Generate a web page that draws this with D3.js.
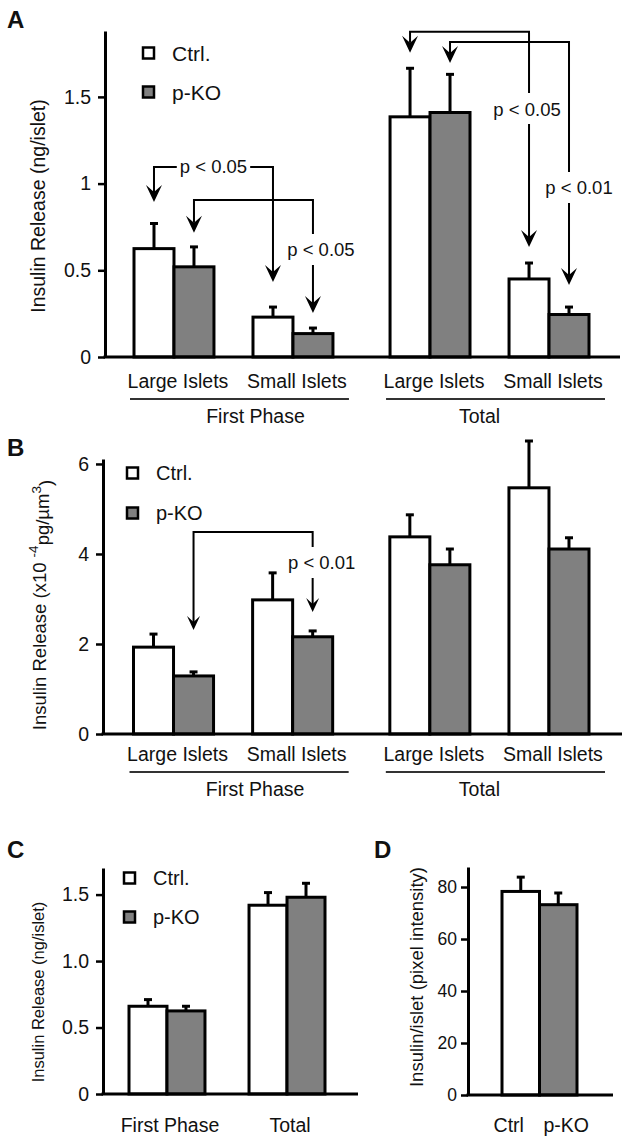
<!DOCTYPE html>
<html>
<head>
<meta charset="utf-8">
<script src="https://cdn.jsdelivr.net/npm/d3@7"></script>
<style>
  body { margin: 0; background: #fff; }
  text { font-family: "Liberation Sans", Arial, sans-serif; fill: #111; }
</style>
</head>
<body>
<script>
// categories shared by the panels
var series = ["Ctrl.", "p-KO"];
var phases = ["First Phase", "Total"];
var islets = ["Large Islets", "Small Islets"];

// panel A: insulin release (ng/islet); order = FP large, FP small, Total large, Total small
var aCtrl = [0.625, 0.23, 1.385, 0.45];
var aCtrlErr = [0.145, 0.058, 0.28, 0.092];
var aKO = [0.52, 0.135, 1.41, 0.245];
var aKOErr = [0.115, 0.032, 0.22, 0.043];
var aTicks = [0, 0.5, 1, 1.5];
var aTickLabels = ["0", "0.5", "1", "1.5"];

// panel B: insulin release (x10^-4 pg/um^3)
var bCtrl = [1.93, 2.98, 4.38, 5.47];
var bCtrlErr = [0.29, 0.6, 0.49, 1.04];
var bKO = [1.29, 2.16, 3.76, 4.11];
var bKOErr = [0.09, 0.13, 0.35, 0.25];
var bTicks = [0, 2, 4, 6];
var bTickLabels = ["0", "2", "4", "6"];

// panel C: insulin release (ng/islet)
var cCats = ["First Phase", "Total"];
var cCtrl = [0.66, 1.42];
var cCtrlErr = [0.05, 0.095];
var cKO = [0.625, 1.48];
var cKOErr = [0.035, 0.105];
var cTicks = [0, 0.5, 1, 1.5];
var cTickLabels = ["0", "0.5", "1.0", "1.5"];

// panel D: insulin/islet (pixel intensity)
var dCats = ["Ctrl", "p-KO"];
var dValues = [78.3, 73.2];
var dErr = [5.5, 4.5];
var dTicks = [0, 20, 40, 60, 80];

// significance brackets, from/to = [bar index, series index], heights in data units
var aBrackets = [
  { from: [0, 0], to: [1, 0], top: 1.096, tipFrom: 0.894, tipTo: 0.433, label: "p < 0.05" },
  { from: [0, 1], to: [1, 1], top: 0.906, tipFrom: 0.716, tipTo: 0.254, label: "p < 0.05", labelY: 0.617, dx: 8 },
  { from: [2, 0], to: [3, 0], top: 1.875, tipFrom: 1.754, tipTo: 0.635, label: "p < 0.05", labelY: 1.43, dx: -2 },
  { from: [2, 1], to: [3, 1], top: 1.817, tipFrom: 1.696, tipTo: 0.415, label: "p < 0.01", labelY: 0.975, dx: 10 }
];
var bBrackets = [
  { from: [0, 1], to: [1, 1], top: 4.49, tipFrom: 2.31, tipTo: 2.71, label: "p < 0.01", labelY: 3.8, dx: 9 }
];

var fills = ["#ffffff", "#808080"];

var svg = d3.select("body").append("svg")
  .attr("width", 622)
  .attr("height", 1137);

// y axis with ticks on the left, domain line thick
function yAxis(x, y, ticks, labels, size, pad) {
  var ax = svg.append("g")
    .attr("transform", `translate(${x},0)`)
    .call(d3.axisLeft(y).tickValues(ticks)
      .tickFormat(function(d, i) { return labels[i]; })
      .tickSize(7).tickSizeOuter(0).tickPadding(pad));
  ax.select(".domain").attr("stroke", "#000").attr("stroke-width", 3);
  ax.selectAll(".tick line").attr("stroke", "#000").attr("stroke-width", 2.5);
  ax.selectAll(".tick text")
    .attr("font-size", size)
    .attr("font-family", "Liberation Sans, Arial, sans-serif")
    .attr("fill", "#111");
}

function xLine(x1, x2, yPos) {
  svg.append("line")
    .attr("x1", x1).attr("x2", x2)
    .attr("y1", yPos).attr("y2", yPos)
    .attr("stroke", "#000").attr("stroke-width", 3);
}

// bars plus upper error bars
function bars(rows, xOf, w, y) {
  var g = svg.append("g");
  g.selectAll("rect").data(rows).enter().append("rect")
    .attr("x", d => xOf(d))
    .attr("y", d => y(d.value))
    .attr("width", w)
    .attr("height", d => y(0) - y(d.value))
    .attr("fill", d => fills[d.s])
    .attr("stroke", "#000")
    .attr("stroke-width", 3);
  g.selectAll("line.err").data(rows).enter().append("line")
    .attr("class", "err")
    .attr("x1", d => xOf(d) + w / 2).attr("x2", d => xOf(d) + w / 2)
    .attr("y1", d => y(d.value)).attr("y2", d => y(d.value + d.err))
    .attr("stroke", "#000").attr("stroke-width", 3);
  g.selectAll("line.cap").data(rows).enter().append("line")
    .attr("class", "cap")
    .attr("x1", d => xOf(d) + w / 2 - 4).attr("x2", d => xOf(d) + w / 2 + 4)
    .attr("y1", d => y(d.value + d.err)).attr("y2", d => y(d.value + d.err))
    .attr("stroke", "#000").attr("stroke-width", 3);
}

function legend(x, y0, step, size) {
  series.forEach(function(s, i) {
    svg.append("rect")
      .attr("x", x).attr("y", y0 + i * step - 5.5)
      .attr("width", 11).attr("height", 11)
      .attr("fill", fills[i]).attr("stroke", "#000").attr("stroke-width", 2.5);
    svg.append("text")
      .attr("x", x + 29).attr("y", y0 + i * step)
      .attr("dy", "0.36em")
      .attr("font-size", size)
      .text(s);
  });
}

function yTitle(x, yc, size) {
  return svg.append("text")
    .attr("transform", `translate(${x},${yc}) rotate(-90)`)
    .attr("text-anchor", "middle")
    .attr("dy", "0.35em")
    .attr("font-size", size);
}

function panelLetter(t, x, yPos) {
  svg.append("text").attr("x", x).attr("y", yPos)
    .attr("font-size", 24).attr("font-weight", "bold").text(t);
}

function arrowHead(g, x, tipY, s) {
  g.append("path")
    .attr("d", `M${x},${tipY} L${x - s.w / 2},${tipY - s.len} L${x},${tipY - s.notch} L${x + s.w / 2},${tipY - s.len} Z`)
    .attr("fill", "#000").attr("stroke", "none");
}

function bracket(b, xOf, y, head) {
  var g = svg.append("g");
  var xa = xOf(b.from), xb = xOf(b.to);
  var yt = y(b.top), ya = y(b.tipFrom), yb = y(b.tipTo);
  var d = `M${xa},${ya - head.notch} V${yt}`;
  if (b.labelY === undefined) {
    var t = g.append("text")
      .attr("x", (xa + xb) / 2).attr("y", yt).attr("dy", "0.35em")
      .attr("text-anchor", "middle").attr("font-size", 18.5).text(b.label);
    var w = t.node().getComputedTextLength();
    d += ` H${(xa + xb) / 2 - w / 2 - 3} M${(xa + xb) / 2 + w / 2 + 3},${yt} H${xb} V${yb - head.notch}`;
  } else {
    var ly = y(b.labelY);
    g.append("text")
      .attr("x", xb + b.dx).attr("y", ly).attr("dy", "0.35em")
      .attr("text-anchor", "middle").attr("font-size", 18.5).text(b.label);
    d += ` H${xb} V${ly - 16} M${xb},${ly + 15} V${yb - head.notch}`;
  }
  g.append("path").attr("d", d)
    .attr("fill", "none").attr("stroke", "#000").attr("stroke-width", 2);
  arrowHead(g, xa, ya, head);
  arrowHead(g, xb, yb, head);
}

// panels A and B share the grouped layout
function groupedPanel(o) {
  var y = d3.scaleLinear().domain([0, o.yMax]).range([o.bottom, o.top]);
  var x0 = d3.scaleBand().domain(phases).range(o.xRange).paddingInner(0.223);
  var x1 = d3.scaleBand().domain(islets).range([0, x0.bandwidth()]).paddingInner(0.328);
  var x2 = d3.scaleBand().domain(series).range([0, x1.bandwidth()]);

  var rows = [];
  o.ctrl.forEach(function(v, i) {
    var p = phases[Math.floor(i / 2)], c = islets[i % 2];
    rows.push({ i: i, s: 0, p: p, c: c, value: v, err: o.ctrlErr[i] });
    rows.push({ i: i, s: 1, p: p, c: c, value: o.ko[i], err: o.koErr[i] });
  });
  var barX = d => x0(d.p) + x1(d.c) + x2(series[d.s]);
  var bw = x2.bandwidth();

  bars(rows, barX, bw, y);
  yAxis(o.axisX, y, o.ticks, o.tickLabels, 19.5, 7);
  xLine(o.axisX - 1.5, o.xEnd, o.bottom);

  // category labels, underline and phase label
  phases.forEach(function(p, pi) {
    islets.forEach(function(c) {
      svg.append("text")
        .attr("x", x0(p) + x1(c) + x1.bandwidth() / 2 + 4)
        .attr("y", o.catY)
        .attr("text-anchor", "middle")
        .attr("font-size", 19.5)
        .text(c);
    });
    svg.append("line")
      .attr("x1", x0(p) - 4).attr("x2", x0(p) + x0.bandwidth() + 16)
      .attr("y1", o.catY + 11).attr("y2", o.catY + 11)
      .attr("stroke", "#333").attr("stroke-width", 1.8);
    svg.append("text")
      .attr("x", x0(p) + x0.bandwidth() / 2 + (pi === 0 ? 22 : -10))
      .attr("y", o.catY + 35)
      .attr("text-anchor", "middle")
      .attr("font-size", 19.5)
      .text(p);
  });

  var centerOf = function(ref) {
    var i = ref[0];
    return x0(phases[Math.floor(i / 2)]) + x1(islets[i % 2]) + x2(series[ref[1]]) + bw / 2;
  };
  o.brackets.forEach(function(b) { bracket(b, centerOf, y, o.head); });
  return y;
}

// ---- Panel A ----
panelLetter("A", 7, 28);
groupedPanel({
  yMax: 1.88, top: 31, bottom: 357, axisX: 105, xEnd: 620,
  xRange: [134, 589], ctrl: aCtrl, ctrlErr: aCtrlErr, ko: aKO, koErr: aKOErr,
  ticks: aTicks, tickLabels: aTickLabels, catY: 388,
  brackets: aBrackets, head: { w: 16, len: 17, notch: 10 }
});
legend(143, 53, 39, 21);
yTitle(38, 206, 19.5).text("Insulin Release (ng/islet)");

// ---- Panel B ----
panelLetter("B", 7, 456);
groupedPanel({
  yMax: 6.11, top: 459, bottom: 734, axisX: 103, xEnd: 622,
  xRange: [133.5, 589], ctrl: bCtrl, ctrlErr: bCtrlErr, ko: bKO, koErr: bKOErr,
  ticks: bTicks, tickLabels: bTickLabels, catY: 761,
  brackets: bBrackets, head: { w: 13, len: 14, notch: 8 }
});
legend(127, 473, 40, 20);
var bt = yTitle(40, 605, 18.5);
bt.append("tspan").text("Insulin Release (x10 ");
bt.append("tspan").attr("font-size", 13.5).attr("dy", "-0.6em").text("-4");
bt.append("tspan").attr("dy", "0.6em").text("pg/µm");
bt.append("tspan").attr("font-size", 13.5).attr("dy", "-0.6em").text("3");
bt.append("tspan").attr("dy", "0.6em").text(")");

// ---- Panel C ----
panelLetter("C", 7, 858);
(function() {
  var y = d3.scaleLinear().domain([0, 1.70]).range([1094, 868]);
  var x = d3.scaleBand().domain(cCats).range([129, 325]).paddingInner(0.367);
  var xs = d3.scaleBand().domain(series).range([0, x.bandwidth()]);
  var rows = [];
  cCats.forEach(function(c, i) {
    rows.push({ c: c, s: 0, value: cCtrl[i], err: cCtrlErr[i] });
    rows.push({ c: c, s: 1, value: cKO[i], err: cKOErr[i] });
  });
  bars(rows, d => x(d.c) + xs(series[d.s]), xs.bandwidth(), y);
  yAxis(103, y, cTicks, cTickLabels, 19.5, 7);
  xLine(101.5, 358, 1094);
  svg.selectAll("text.cx").data(cCats).enter().append("text")
    .attr("class", "cx")
    .attr("x", d => x(d) + x.bandwidth() / 2 + 3)
    .attr("y", 1132)
    .attr("text-anchor", "middle")
    .attr("font-size", 19.5)
    .text(d => d);
  legend(124, 878, 39, 20);
  yTitle(38, 992, 16.5).text("Insulin Release (ng/islet)");
})();

// ---- Panel D ----
panelLetter("D", 374, 858);
(function() {
  var y = d3.scaleLinear().domain([0, 87.7]).range([1095, 867]);
  var x = d3.scaleBand().domain(dCats).range([502, 577]);
  var rows = dCats.map(function(c, i) { return { c: c, s: i, value: dValues[i], err: dErr[i] }; });
  bars(rows, d => x(d.c), x.bandwidth(), y);
  yAxis(468, y, dTicks, dTicks.map(String), 17.5, 4);
  xLine(466.5, 613, 1095);
  svg.selectAll("text.dx").data(dCats).enter().append("text")
    .attr("class", "dx")
    .attr("x", (d, i) => x(d) + x.bandwidth() / 2 + (i === 0 ? -12 : 8))
    .attr("y", 1132)
    .attr("text-anchor", "middle")
    .attr("font-size", 19.5)
    .text(d => d);
  yTitle(417, 977, 18.5).text("Insulin/islet (pixel intensity)");
})();
</script>
</body>
</html>
